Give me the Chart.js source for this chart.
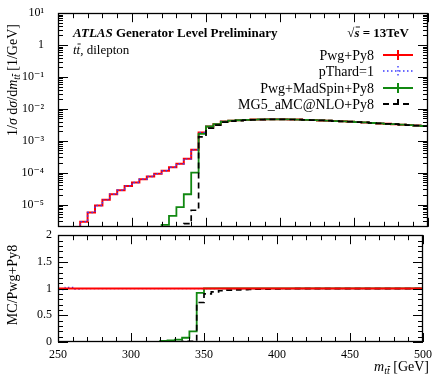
<!DOCTYPE html>
<html>
<head>
<meta charset="utf-8">
<script src="https://cdn.jsdelivr.net/npm/chart.js@4.4.1/dist/chart.umd.min.js"></script>
<style>
html, body { margin: 0; padding: 0; background: #fff; }
#wrap { position: relative; width: 438px; height: 376px; }
#top { position: absolute; left: 0; top: 0; }
#bot { position: absolute; left: 0; top: 222px; }
</style>
</head>
<body>
<div id="wrap">
  <canvas id="top" width="438" height="240"></canvas>
  <canvas id="bot" width="438" height="154"></canvas>
</div>
<script>
const FONT = '"Liberation Serif", "DejaVu Serif", serif';

// bin low edges [GeV], last bin ends at 500
const massBins = [250, 255, 260, 265, 270, 275, 280, 285, 290, 295,
                  300, 305, 310, 315, 320, 325, 330, 335, 340, 345,
                  350, 355, 360, 365, 370, 375, 380, 385, 390, 395,
                  400, 405, 410, 415, 420, 425, 430, 435, 440, 445,
                  450, 455, 460, 465, 470, 475, 480, 485, 490, 495];
const binEnd = 500;

// 1/sigma dsigma/dm [1/GeV]
const pwgPy8 = [null, null, 1.2e-6, 2.9e-6, 5.6e-6, 9.3e-6, 1.4e-5, 2.1e-5, 2.8e-5, 3.8e-5,
                4.9e-5, 6.2e-5, 7.6e-5, 9.3e-5, 1.15e-4, 1.47e-4, 1.9e-4, 2.7e-4, 5.2e-4, 1.8e-3,
                2.8e-3, 3.3e-3, 4.0e-3, 4.25e-3, 4.4e-3, 4.5e-3, 4.6e-3, 4.65e-3, 4.7e-3, 4.7e-3,
                4.68e-3, 4.65e-3, 4.6e-3, 4.5e-3, 4.45e-3, 4.35e-3, 4.25e-3, 4.15e-3, 4.05e-3, 3.95e-3,
                3.85e-3, 3.75e-3, 3.6e-3, 3.5e-3, 3.4e-3, 3.3e-3, 3.2e-3, 3.1e-3, 3.0e-3, 2.9e-3];
const pThard1 = [null, null, 1.2e-6, 2.9e-6, 5.6e-6, 9.3e-6, 1.4e-5, 2.1e-5, 2.8e-5, 3.8e-5,
                 4.9e-5, 6.2e-5, 7.6e-5, 9.3e-5, 1.15e-4, 1.47e-4, 1.9e-4, 2.7e-4, 5.2e-4, 1.8e-3,
                 2.8e-3, 3.3e-3, 4.0e-3, 4.25e-3, 4.4e-3, 4.5e-3, 4.6e-3, 4.65e-3, 4.7e-3, 4.7e-3,
                 4.68e-3, 4.65e-3, 4.6e-3, 4.5e-3, 4.45e-3, 4.35e-3, 4.25e-3, 4.15e-3, 4.05e-3, 3.95e-3,
                 3.85e-3, 3.75e-3, 3.6e-3, 3.5e-3, 3.4e-3, 3.3e-3, 3.2e-3, 3.1e-3, 3.0e-3, 2.9e-3];
const madSpin = [null, null, null, null, null, null, null, null, null, null,
                 null, null, null, 1.0e-6, 2.3e-6, 4.4e-6, 8.3e-6, 2.1e-5, 1.0e-4, 1.65e-3,
                 2.8e-3, 3.3e-3, 4.0e-3, 4.25e-3, 4.4e-3, 4.5e-3, 4.6e-3, 4.65e-3, 4.7e-3, 4.7e-3,
                 4.68e-3, 4.65e-3, 4.6e-3, 4.5e-3, 4.45e-3, 4.35e-3, 4.25e-3, 4.15e-3, 4.05e-3, 3.95e-3,
                 3.85e-3, 3.75e-3, 3.6e-3, 3.5e-3, 3.4e-3, 3.3e-3, 3.2e-3, 3.1e-3, 3.0e-3, 2.9e-3];
const mg5Amc = [null, null, null, null, null, null, null, null, null, null,
                null, null, null, null, null, null, 1.0e-6, 2.5e-6, 6.6e-6, 1.33e-3,
                2.5e-3, 3.1e-3, 3.85e-3, 4.12e-3, 4.29e-3, 4.41e-3, 4.53e-3, 4.6e-3, 4.66e-3, 4.67e-3,
                4.66e-3, 4.64e-3, 4.59e-3, 4.5e-3, 4.45e-3, 4.35e-3, 4.25e-3, 4.15e-3, 4.05e-3, 3.95e-3,
                3.85e-3, 3.75e-3, 3.6e-3, 3.5e-3, 3.4e-3, 3.3e-3, 3.2e-3, 3.1e-3, 3.0e-3, 2.9e-3];

// MC / Pwg+Py8
const ratioPwg = [1, 1, 1, 1, 1, 1, 1, 1, 1, 1, 1, 1, 1, 1, 1, 1, 1, 1, 1, 1, 1, 1, 1, 1, 1,
                  1, 1, 1, 1, 1, 1, 1, 1, 1, 1, 1, 1, 1, 1, 1, 1, 1, 1, 1, 1, 1, 1, 1, 1, 1];
const ratioPThard = [0.98, 1.02, 0.99, 1, 1, 1, 1, 1, 1, 1, 1, 1, 1, 1, 1, 1, 1, 1, 1, 1, 1, 1, 1, 1, 1,
                     1, 1, 1, 1, 1, 1, 1, 1, 1, 1, 1, 1, 1, 1, 1, 1, 1, 1, 1, 1, 1, 1, 1, 1, 1];
const ratioMadSpin = [0, 0, 0, 0, 0, 0, 0, 0, 0, 0, 0, 0, 0, 0, 0.02, 0.03, 0.044, 0.08, 0.2, 0.92,
                      1.005, 1.005, 1.005, 1.005, 1.005, 1.005, 1.005, 1.005, 1.005, 1.005,
                      1.005, 1.005, 1.005, 1.005, 1.005, 1.005, 1.005, 1.005, 1.005, 1.005,
                      1.005, 1.005, 1.005, 1.005, 1.005, 1.005, 1.005, 1.005, 1.005, 1.005];
const ratioMg5 = [0, 0, 0, 0, 0, 0, 0, 0, 0, 0, 0, 0, 0, 0, 0, 0, 0, 0.01, 0.013, 0.74,
                  0.9, 0.94, 0.96, 0.97, 0.975, 0.98, 0.985, 0.99, 0.99, 0.993,
                  0.995, 0.997, 0.998, 1, 1, 1, 1, 1, 1, 1,
                  1, 1, 1, 1, 1, 1, 1, 1, 1, 1];

const upperTicks = [1e-5, 1e-4, 1e-3, 1e-2, 1e-1, 1, 10];
const upperLabels = ['10\u207B\u2075', '10\u207B\u2074', '10\u207B\u00B3', '10\u207B\u00B2', '10\u207B\u00B9', '1', '10\u00B9'];
const ratioTicks = [0, 0.5, 1, 1.5, 2];
const ratioLabels = ['0', '0.5', '1', '1.5', '2'];
const xTicks = [250, 300, 350, 400, 450, 500];

// histogram points: value at low edge, extra point at the upper end
function steps(values) {
    const pts = massBins.map((m, i) => ({ x: m, y: values[i] }));
    pts.push({ x: binEnd, y: values[values.length - 1] });
    return pts;
}

function histo(label, values, color, width, dash, order) {
    return {
        label: label,
        data: steps(values),
        borderColor: color,
        borderWidth: width,
        borderDash: dash,
        stepped: 'before',
        pointRadius: 0,
        fill: false,
        spanGaps: false,
        order: order
    };
}

// draws text made of several runs (font, sub shift, overline)
function runsWidth(ctx, runs) {
    let w = 0;
    runs.forEach(r => { ctx.font = r.font; w += ctx.measureText(r.t).width; });
    return w;
}
function drawRuns(ctx, x, y, runs) {
    runs.forEach(r => {
        ctx.font = r.font;
        const w = ctx.measureText(r.t).width;
        const dy = r.dy || 0;
        ctx.fillText(r.t, x, y + dy);
        if (r.bar) {
            ctx.beginPath();
            ctx.lineWidth = 0.9;
            ctx.moveTo(x + w * 0.25, y + dy - r.bar);
            ctx.lineTo(x + w + 0.5, y + dy - r.bar);
            ctx.stroke();
        }
        x += w;
    });
    return x;
}

// frame with inward ticks, ROOT style
function frameTicks(yMajor, yMinor) {
    return {
        id: 'frameTicks',
        afterDraw(chart) {
            const { ctx, chartArea: a, scales } = chart;
            const xs = scales.x, ys = scales.y;
            ctx.save();
            ctx.strokeStyle = '#000';
            ctx.lineWidth = 1;
            ctx.beginPath();
            for (let v = 250; v <= 500; v += 10) {
                const p = Math.round(xs.getPixelForValue(v)) + 0.5;
                const len = v % 50 === 0 ? 9 : 5;
                ctx.moveTo(p, a.top); ctx.lineTo(p, a.top + len);
                ctx.moveTo(p, a.bottom); ctx.lineTo(p, a.bottom - len);
            }
            const yt = (v, len) => {
                const p = Math.round(ys.getPixelForValue(v)) + 0.5;
                ctx.moveTo(a.left, p); ctx.lineTo(a.left + len, p);
                ctx.moveTo(a.right, p); ctx.lineTo(a.right - len, p);
            };
            yMajor.forEach(v => yt(v, 10));
            yMinor.forEach(v => yt(v, 5));
            ctx.stroke();
            ctx.lineWidth = 1.3;
            ctx.strokeRect(Math.round(a.left) + 0.5, Math.round(a.top) + 0.5,
                           Math.round(a.right - a.left) - 1, Math.round(a.bottom - a.top) - 1);
            ctx.restore();
        }
    };
}

const logMinor = [];
[1e-6, 1e-5, 1e-4, 1e-3, 1e-2, 1e-1, 1].forEach(d => {
    [2, 3, 4, 5, 6, 7, 8, 9].forEach(k => { if (k * d > 2e-6 && k * d < 10) logMinor.push(k * d); });
});
const linMinor = [];
for (let i = 1; i < 20; i++) { if (i % 5 !== 0) linMinor.push(i / 10); }

const upperText = {
    id: 'upperText',
    afterDraw(chart) {
        const ctx = chart.ctx;
        ctx.save();
        ctx.fillStyle = '#000';
        ctx.strokeStyle = '#000';
        ctx.textBaseline = 'alphabetic';
        ctx.textAlign = 'left';
        drawRuns(ctx, 73, 37, [
            { t: 'ATLAS', font: 'bold italic 13px ' + FONT },
            { t: ' Generator Level Preliminary', font: 'bold 13px ' + FONT }
        ]);
        drawRuns(ctx, 73, 54, [
            { t: 't', font: 'italic 13px ' + FONT },
            { t: 't', font: 'italic 13px ' + FONT, bar: 10 },
            { t: ', dilepton', font: '13px ' + FONT }
        ]);
        const sq = [
            { t: '\u221A', font: 'bold 13px ' + FONT },
            { t: 's', font: 'bold italic 13px ' + FONT, bar: 10 },
            { t: ' = 13TeV', font: 'bold 13px ' + FONT }
        ];
        drawRuns(ctx, 409 - runsWidth(ctx, sq), 37, sq);

        // legend
        const entries = [
            { t: 'Pwg+Py8', c: '#ff0000', w: 2, d: [] },
            { t: 'pThard=1', c: '#3a3aff', w: 1.4, d: [1.5, 2.5] },
            { t: 'Pwg+MadSpin+Py8', c: '#118811', w: 2, d: [] },
            { t: 'MG5_aMC@NLO+Py8', c: '#000000', w: 2, d: [6, 4] }
        ];
        const rows = [55, 71, 88, 104];
        entries.forEach((e, i) => {
            const y = rows[i];
            ctx.font = '14px ' + FONT;
            ctx.textAlign = 'right';
            ctx.fillStyle = '#000';
            ctx.fillText(e.t, 374, y + 4.5);
            ctx.strokeStyle = e.c;
            ctx.lineWidth = e.w;
            ctx.setLineDash(e.d);
            ctx.beginPath();
            ctx.moveTo(383, y); ctx.lineTo(413, y);
            ctx.moveTo(398, y - 5); ctx.lineTo(398, y + 5);
            ctx.stroke();
            ctx.setLineDash([]);
        });

        // y title
        ctx.fillStyle = '#000';
        ctx.strokeStyle = '#000';
        ctx.textAlign = 'left';
        ctx.translate(17, 80);
        ctx.rotate(-Math.PI / 2);
        const yt = [
            { t: '1/', font: '14px ' + FONT },
            { t: '\u03C3', font: 'italic 14px ' + FONT },
            { t: ' d', font: '14px ' + FONT },
            { t: '\u03C3', font: 'italic 14px ' + FONT },
            { t: '/d', font: '14px ' + FONT },
            { t: 'm', font: 'italic 14px ' + FONT },
            { t: 't', font: 'italic 10px ' + FONT, dy: 3 },
            { t: 't', font: 'italic 10px ' + FONT, dy: 3, bar: 7.5 },
            { t: ' [1/GeV]', font: '14px ' + FONT }
        ];
        drawRuns(ctx, -runsWidth(ctx, yt) / 2, 0, yt);
        ctx.restore();
    }
};

const lowerText = {
    id: 'lowerText',
    afterDraw(chart) {
        const ctx = chart.ctx;
        ctx.save();
        ctx.fillStyle = '#000';
        ctx.strokeStyle = '#000';
        ctx.textAlign = 'left';
        const xt = [
            { t: 'm', font: 'italic 14px ' + FONT },
            { t: 't', font: 'italic 10px ' + FONT, dy: 3 },
            { t: 't', font: 'italic 10px ' + FONT, dy: 3, bar: 7.5 },
            { t: ' [GeV]', font: '14px ' + FONT }
        ];
        drawRuns(ctx, 429 - runsWidth(ctx, xt), 149, xt);
        ctx.translate(17, 63);
        ctx.rotate(-Math.PI / 2);
        ctx.font = '14px ' + FONT;
        ctx.textAlign = 'center';
        ctx.fillText('MC/Pwg+Py8', 0, 0);
        ctx.restore();
    }
};

const tickFont = { family: FONT, size: 12 };

new Chart(document.getElementById('top').getContext('2d'), {
    type: 'line',
    data: {
        datasets: [
            histo('MG5_aMC@NLO+Py8', mg5Amc, '#000000', 1.7, [6, 4], 1),
            histo('Pwg+MadSpin+Py8', madSpin, '#118811', 1.8, [], 2),
            histo('pThard=1', pThard1, '#3a3aff', 1.4, [1.5, 2.5], 3),
            histo('Pwg+Py8', pwgPy8, '#ff0000', 2, [], 4)
        ]
    },
    options: {
        responsive: false,
        animation: false,
        layout: { padding: { left: 0, right: 10, top: 11, bottom: 0 } },
        plugins: { legend: { display: false }, tooltip: { enabled: false } },
        scales: {
            x: {
                type: 'linear', min: 250, max: 500,
                ticks: { display: false },
                grid: { display: false }, border: { display: false },
                afterFit: s => { s.height = 8; }
            },
            y: {
                type: 'logarithmic', min: 2e-6, max: 10,
                afterBuildTicks: s => { s.ticks = upperTicks.map(v => ({ value: v })); },
                ticks: {
                    autoSkip: false, padding: 6, color: '#000', font: tickFont,
                    callback: v => upperLabels[upperTicks.indexOf(v)]
                },
                grid: { display: false }, border: { display: false },
                afterFit: s => { s.width = 58; }
            }
        }
    },
    plugins: [frameTicks(upperTicks, logMinor), upperText]
});

new Chart(document.getElementById('bot').getContext('2d'), {
    type: 'line',
    data: {
        datasets: [
            histo('Pwg+Py8', ratioPwg, '#ff0000', 2, [], 0),
            histo('MG5_aMC@NLO+Py8', ratioMg5, '#000000', 1.7, [6, 4], 1),
            histo('Pwg+MadSpin+Py8', ratioMadSpin, '#118811', 1.8, [], 2),
            histo('pThard=1', ratioPThard, '#3a3aff', 1.4, [1.5, 2.5], 3)
        ]
    },
    options: {
        responsive: false,
        animation: false,
        layout: { padding: { left: 0, right: 10, top: 10, bottom: 0 } },
        plugins: { legend: { display: false }, tooltip: { enabled: false } },
        scales: {
            x: {
                type: 'linear', min: 250, max: 500,
                afterBuildTicks: s => { s.ticks = xTicks.map(v => ({ value: v })); },
                ticks: { autoSkip: false, maxRotation: 0, padding: 6, color: '#000', font: tickFont },
                grid: { display: false, drawTicks: false }, border: { display: false },
                afterFit: s => { s.height = 34; }
            },
            y: {
                type: 'linear', min: 0, max: 2,
                afterBuildTicks: s => { s.ticks = ratioTicks.map(v => ({ value: v })); },
                ticks: {
                    autoSkip: false, padding: 6, color: '#000', font: tickFont,
                    callback: v => ratioLabels[ratioTicks.indexOf(v)]
                },
                grid: { display: false, drawTicks: false }, border: { display: false },
                afterFit: s => { s.width = 58; }
            }
        }
    },
    plugins: [frameTicks(ratioTicks, linMinor), lowerText]
});
</script>
</body>
</html>
